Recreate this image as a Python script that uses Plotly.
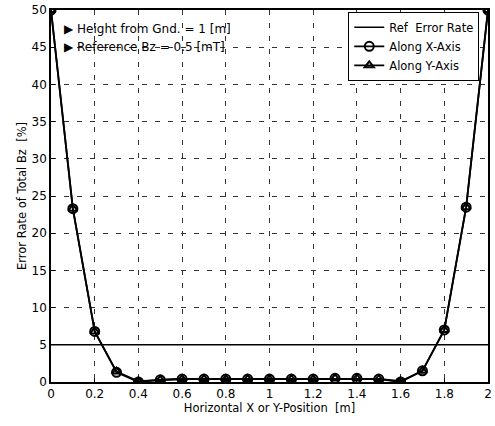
import plotly.graph_objects as go

x_pos = [0.0, 0.1, 0.2, 0.3, 0.4, 0.5, 0.6, 0.7, 0.8, 0.9, 1.0,
         1.1, 1.2, 1.3, 1.4, 1.5, 1.6, 1.7, 1.8, 1.9, 2.0]
err_x = [50.0, 23.3, 6.8, 1.3, 0.0, 0.3, 0.4, 0.4, 0.4, 0.4, 0.4,
         0.4, 0.4, 0.5, 0.5, 0.4, 0.0, 1.5, 7.0, 23.5, 50.0]
err_y = [50.0, 23.3, 6.8, 1.4, 0.1, 0.3, 0.4, 0.4, 0.4, 0.4, 0.4,
         0.4, 0.4, 0.5, 0.5, 0.4, 0.1, 1.5, 7.0, 23.5, 50.0]
ref_x = [0.0, 2.0]
ref_y = [5.0, 5.0]
x_ticks = [0, 0.2, 0.4, 0.6, 0.8, 1.0, 1.2, 1.4, 1.6, 1.8, 2.0]
x_tick_text = ["0", "0.2", "0.4", "0.6", "0.8", "1", "1.2", "1.4", "1.6", "1.8", "2"]
y_ticks = [0, 5, 10, 15, 20, 25, 30, 35, 40, 45, 50]

font = "DejaVu Sans, Liberation Sans, Arial, sans-serif"

fig = go.Figure()
fig.add_trace(go.Scatter(x=ref_x, y=ref_y, mode="lines", name="Ref  Error Rate",
                         line=dict(color="black", width=1.5)))
fig.add_trace(go.Scatter(x=x_pos, y=err_x, mode="lines+markers", name="Along X-Axis",
                         line=dict(color="black", width=1.8),
                         marker=dict(symbol="circle-open", size=9, color="black",
                                     line=dict(width=2, color="black"))))
fig.add_trace(go.Scatter(x=x_pos, y=err_y, mode="lines+markers", name="Along Y-Axis",
                         line=dict(color="black", width=1.8),
                         marker=dict(symbol="triangle-up-open", size=8, color="black",
                                     line=dict(width=2, color="black"))))

fig.update_layout(
    width=495, height=426,
    margin=dict(l=51, r=7, t=10, b=44),
    paper_bgcolor="white", plot_bgcolor="white",
    font=dict(family=font, size=11, color="black"),
    showlegend=True,
    legend=dict(x=0.98, y=0.995, xanchor="right", yanchor="top",
                bordercolor="black", borderwidth=1, bgcolor="white",
                font=dict(size=11.5), tracegroupgap=0, itemwidth=30),
    annotations=[
        dict(x=0.05, y=47.4, xref="x", yref="y", xanchor="left", showarrow=False,
             text="▶ Height from Gnd. = 1 [m]", font=dict(size=12, color="black")),
        dict(x=0.05, y=45.0, xref="x", yref="y", xanchor="left", showarrow=False,
             text="▶ Reference Bz = 0.5 [mT]", font=dict(size=12, color="black")),
    ],
)
fig.update_xaxes(range=[0, 2], tickvals=x_ticks, ticktext=x_tick_text,
                 showline=True, mirror=True, linecolor="black", linewidth=1.5,
                 ticks="inside", ticklen=4, tickcolor="black",
                 showgrid=True, gridcolor="#333", griddash="5px,8px", gridwidth=1,
                 zeroline=False, automargin=False,
                 title=dict(text="Horizontal X or Y-Position  [m]", standoff=3,
                            font=dict(size=11.5)),
                 tickfont=dict(size=12))
fig.update_yaxes(range=[0, 50], tickvals=y_ticks,
                 showline=True, mirror=True, linecolor="black", linewidth=1.5,
                 ticks="inside", ticklen=4, tickcolor="black",
                 showgrid=True, gridcolor="#333", griddash="5px,8px", gridwidth=1,
                 zeroline=False, automargin=False,
                 title=dict(text="Error Rate of Total Bz  [%]", standoff=3,
                            font=dict(size=11.5)),
                 tickfont=dict(size=12))

fig.write_html("out.html", config={"displayModeBar": False},
               post_script="document.body.style.margin='0';")
